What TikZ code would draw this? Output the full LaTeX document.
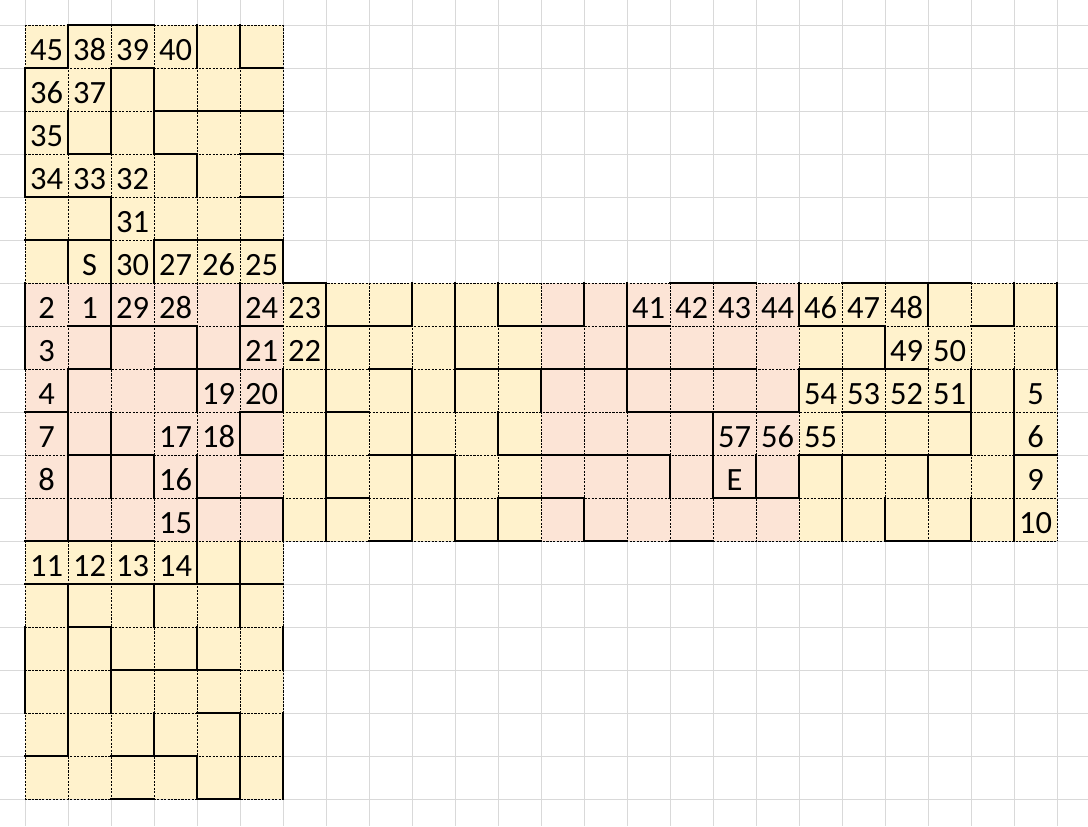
\documentclass[tikz,border=0pt]{standalone}
\usepackage{fontspec}
\setmainfont{Carlito}
\definecolor{cyel}{HTML}{FFF2CC}
\definecolor{cpink}{HTML}{FCE4D6}
\definecolor{cgrid}{HTML}{D9D9D9}
\begin{document}
\begin{tikzpicture}[
  wall/.style={line width=1.7pt, line cap=rect},
  dotline/.style={line width=0.6pt, dash pattern=on 1.4pt off 0.9pt},
  gridline/.style={cgrid, line width=0.6pt},
  lab/.style={anchor=base, inner sep=0pt, font=\fontsize{21.5pt}{21.5pt}\selectfont}
]
\useasboundingbox (-0.5814,0.5814) rectangle (24.7209,-18.6279);
\fill[white] (-0.5814,0.5814) rectangle (24.7209,-18.6279);
% background sheet grid
\foreach \x in {0,...,24} \draw[gridline] (\x,0.5814) -- (\x,-18.6279);
\foreach \y in {0,...,18} \draw[gridline] (-0.5814,-\y) -- (24.7209,-\y);
% cell fills
\fill[cyel] (0,0) rectangle (6,-6);
\fill[cyel] (0,-12) rectangle (6,-18);
\fill[cyel] (6,-6) rectangle (12,-12);
\fill[cyel] (18,-6) rectangle (24,-12);
\fill[cpink] (0,-6) rectangle (6,-12);
\fill[cpink] (12,-6) rectangle (18,-12);
% dotted cell borders
\foreach \x in {0,...,6} \draw[dotline] (\x,0) -- (\x,-6);
\foreach \y in {0,...,6} \draw[dotline] (0,-\y) -- (6,-\y);
\foreach \x in {0,...,24} \draw[dotline] (\x,-6) -- (\x,-12);
\foreach \y in {6,...,12} \draw[dotline] (0,-\y) -- (24,-\y);
\foreach \x in {0,...,6} \draw[dotline] (\x,-12) -- (\x,-18);
\foreach \y in {12,...,18} \draw[dotline] (0,-\y) -- (6,-\y);
% horizontal walls y/from/to
\foreach \y/\a/\b in {0/1/3, 1/0/1, 1/2/3, 1/5/6, 2/3/6, 3/1/2, 3/3/4, 3/5/6,
  4/0/2, 4/5/6, 5/0/2, 5/3/6,
  6/6/7, 6/15/17, 6/19/22,
  7/1/4, 7/5/6, 7/7/9, 7/11/13, 7/14/15, 7/18/20, 7/22/23,
  8/1/2, 8/3/5, 8/8/9, 8/10/17, 8/18/21,
  9/0/1, 9/5/6, 9/7/8, 9/14/18, 9/19/22,
  10/1/3, 10/5/6, 10/8/10, 10/11/15, 10/18/22, 10/23/24,
  11/4/6, 11/7/8, 11/11/13, 11/16/18,
  12/0/3, 12/8/9, 12/10/12, 12/13/14, 12/15/16, 12/20/22,
  13/0/6, 14/1/2, 15/2/5, 16/4/5, 17/0/1, 17/2/4, 18/2/3, 18/4/5}
  \draw[wall] (\a,-\y) -- (\b,-\y);
% vertical walls x/from/to
\foreach \x/\a/\b in {0/1/4, 0/6/8, 0/14/16,
  1/0/1, 1/2/3, 1/5/6, 1/8/12, 1/13/17,
  2/1/3, 2/4/8, 2/9/11, 2/14/16,
  3/1/3, 3/5/6, 3/10/11, 3/13/14, 3/16/17,
  4/0/1, 4/3/4, 4/7/9, 4/10/13, 4/14/15, 4/17/18,
  5/0/1, 5/6/8, 5/9/10, 5/12/14, 5/16/18,
  6/5/6, 6/8/9, 6/11/12, 6/14/15, 6/16/18,
  7/6/12, 9/6/7, 9/8/12, 10/6/9, 10/10/12,
  11/6/7, 11/9/10, 11/11/12, 12/8/9, 13/6/7, 13/11/12, 14/6/9,
  15/10/11, 16/9/11, 17/10/11, 18/6/7, 18/8/9, 18/10/11,
  19/10/12, 20/7/8, 20/11/12, 21/6/7, 21/10/11,
  22/8/10, 22/11/12, 23/6/7, 23/8/12, 24/6/8}
  \draw[wall] (\x,-\a) -- (\x,-\b);
% labels text/col/row
\foreach \t/\c/\r in {45/0/0, 38/1/0, 39/2/0, 40/3/0, 36/0/1, 37/1/1, 35/0/2,
  34/0/3, 33/1/3, 32/2/3, 31/2/4, S/1/5, 30/2/5, 27/3/5, 26/4/5, 25/5/5,
  2/0/6, 1/1/6, 29/2/6, 28/3/6, 24/5/6, 23/6/6, 41/14/6, 42/15/6, 43/16/6,
  44/17/6, 46/18/6, 47/19/6, 48/20/6,
  3/0/7, 21/5/7, 22/6/7, 49/20/7, 50/21/7,
  4/0/8, 19/4/8, 20/5/8, 54/18/8, 53/19/8, 52/20/8, 51/21/8, 5/23/8,
  7/0/9, 17/3/9, 18/4/9, 57/16/9, 56/17/9, 55/18/9, 6/23/9,
  8/0/10, 16/3/10, E/16/10, 9/23/10,
  15/3/11, 10/23/11,
  11/0/12, 12/1/12, 13/2/12, 14/3/12}
  \node[lab] (n\t) at ({\c+0.5},{-\r-0.83}) {\t};
\end{tikzpicture}
\end{document}
